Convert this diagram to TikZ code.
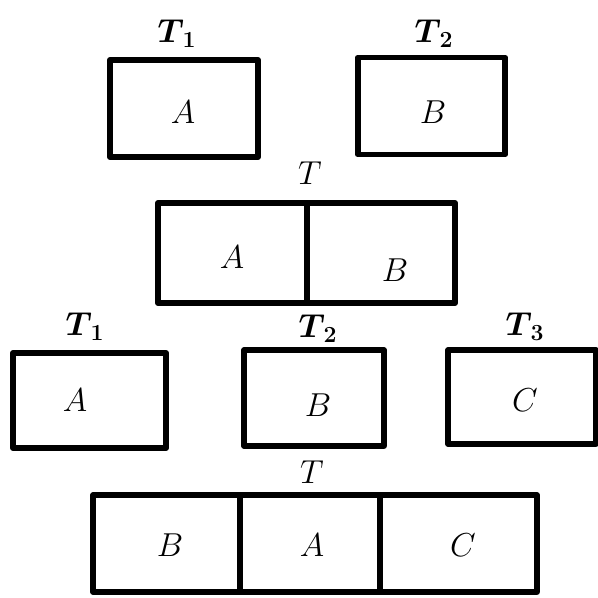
\documentclass[tikz,border=0pt]{standalone}
\usepackage{amsmath}
\usepackage{bm}
\begin{document}
\begin{tikzpicture}[x=0.75pt,y=-0.75pt,
  cell/.style={draw=black,line width=4.4pt,rectangle,inner sep=0pt,line join=round},
  thincell/.style={draw=black,line width=3.8pt,rectangle,inner sep=0pt,line join=round},
  w/.style={minimum width={0.75pt*#1}},
  h/.style={minimum height={0.75pt*#1}},
  lab/.style={inner sep=0pt,font=\fontsize{24}{28}\selectfont},
  tlab/.style={inner sep=0pt,font=\fontsize{25}{28}\selectfont\bfseries}]
\useasboundingbox (0,0) rectangle (598,597);
% Row 1
\node[tlab] (t1a) at (177,34) {$\bm{T}_{\,\mathbf{1}}$};
\node[tlab] (t2a) at (434,34) {$\bm{T}_{\,\mathbf{2}}$};
\node[cell,w=148,h=97] (boxA1) at (184,108.5) {};
\node[cell,w=147,h=97] (boxB1) at (431.5,106) {};
\node[lab] (a1) at (183,112) {$A$};
\node[lab] (b1) at (433,112) {$B$};
% Row 2
\node[lab] (t2) at (310,173) {$T$};
\node[cell,w=149,h=100] (c2a) at (232.5,253) {};
\node[cell,w=148,h=100] (c2b) at (381,253) {};
\node[lab] (a2) at (232,257) {$A$};
\node[lab] (b2) at (395,270) {$B$};
% Row 3
\node[tlab] (t1c) at (85,327) {$\bm{T}_{\,\mathbf{1}}$};
\node[tlab] (t2c) at (318,329) {$\bm{T}_{\,\mathbf{2}}$};
\node[tlab] (t3c) at (525,327) {$\bm{T}_{\,\mathbf{3}}$};
\node[cell,w=153,h=95] (boxA3) at (89.5,400.5) {};
\node[thincell,w=140,h=96] (boxB3) at (314,398) {};
\node[thincell,w=148,h=94] (boxC3) at (522,397) {};
\node[lab] (a3) at (75,400) {$A$};
\node[lab] (b3) at (318,405) {$B$};
\node[lab] (c3) at (525,400) {$C$};
% Row 4
\node[lab] (t4) at (312,472) {$T$};
\node[thincell,w=147,h=97] (c4a) at (166.5,543.5) {};
\node[thincell,w=140,h=97] (c4b) at (310,543.5) {};
\node[thincell,w=157,h=97] (c4c) at (458.5,543.5) {};
\node[lab] (b4) at (170,545) {$B$};
\node[lab] (a4) at (312,545) {$A$};
\node[lab] (cc4) at (463,545) {$C$};
\end{tikzpicture}
\end{document}
